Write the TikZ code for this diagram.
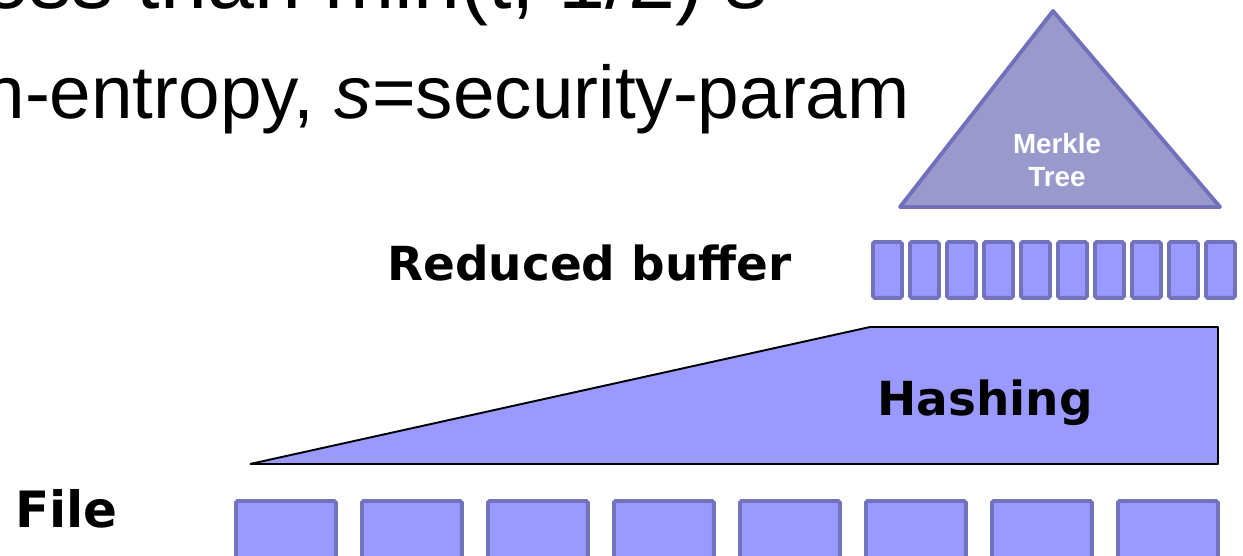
\documentclass[tikz,border=0pt]{standalone}
\usepackage{fontspec}
\setmainfont{Liberation Sans}
\newfontfamily\labelfont{DejaVu Sans}
\definecolor{boxfill}{HTML}{9999FF}
\definecolor{boxline}{HTML}{7373BB}
\definecolor{treefill}{HTML}{9999CC}
\definecolor{treeline}{HTML}{7070BB}
\begin{document}
\begin{tikzpicture}[x=0.02cm, y=-0.02cm,
  block/.style={draw=boxline, fill=boxfill, line width=2.2pt, rounded corners=1pt, inner sep=0pt, anchor=north west},
  filebox/.style={block, minimum width=2.0cm, minimum height=1.6cm},
  bufbox/.style={block, minimum width=0.58cm, minimum height=1.12cm},
  tag/.style={font=\labelfont\bfseries\fontsize{26.7}{30}\selectfont, inner sep=0pt, anchor=base west},
  bigtext/.style={font=\fontsize{42.5}{51}\selectfont, inner sep=0pt, anchor=base east}]
\useasboundingbox (0,0) rectangle (1243,555);
\clip (0,0) rectangle (1243,555);

% Text lines cut off at the top of the slide
\node[bigtext, font=\fontsize{48}{58}\selectfont] (line1) at (770,8) {less than min(t, 1/2) \textit{s}};
\node[bigtext] (line2) at (910,118) {min-entropy, \textit{s}=security-param};

% Merkle tree on top of the reduced buffer
\filldraw[fill=treefill, draw=treeline, line width=2.2pt, line join=round]
  (1053,11) -- (1220,207) -- (900,207) -- cycle;
\node[text=white, align=center, inner sep=0pt,
  font=\bfseries\fontsize{15.8}{18.7}\selectfont] (tree) at (1057,160) {Merkle\\Tree};

% Reduced buffer
\node[tag] (buflabel) at (387,280) {Reduced buffer};
\foreach \i in {0,...,9}
  \node[bufbox] (buf\i) at ({871+37*\i},240) {};

% Hashing stage
\filldraw[fill=boxfill, draw=black, line width=1.1pt, line join=bevel]
  (250,464) -- (870,327) -- (1218,327) -- (1218,464) -- cycle;
\node[tag] (hashing) at (877,415) {Hashing};

% File blocks
\node[tag, font=\labelfont\bfseries\fontsize{28.5}{32}\selectfont] (filelabel) at (15,527) {File};
\foreach \i in {0,...,7}
  \node[filebox] (file\i) at ({234+126*\i},499) {};
\end{tikzpicture}
\end{document}
